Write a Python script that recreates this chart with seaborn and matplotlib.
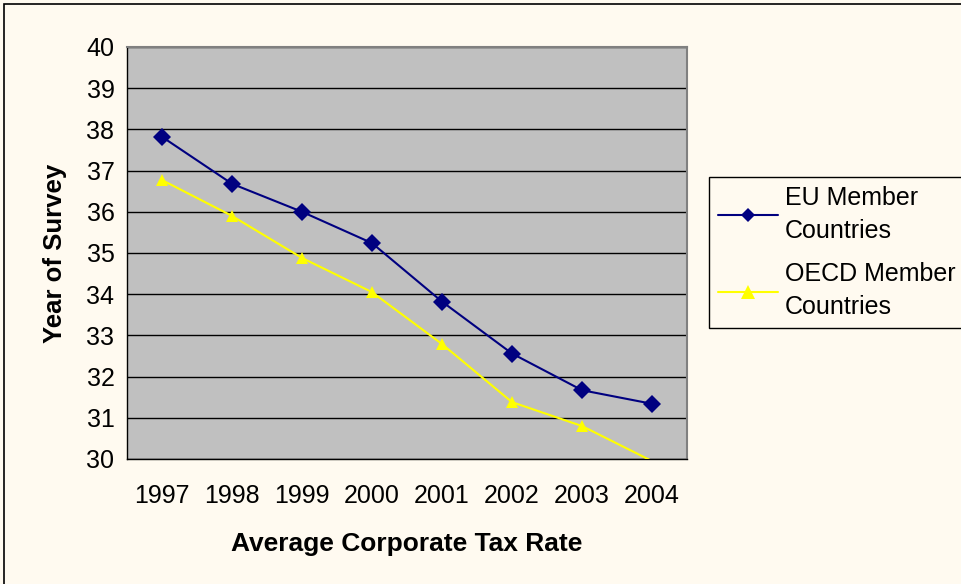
import matplotlib
matplotlib.use("Agg")
import matplotlib.pyplot as plt
import seaborn as sns
import pandas as pd
from matplotlib.patches import Rectangle
from matplotlib.lines import Line2D

years = ["1997", "1998", "1999", "2000", "2001", "2002", "2003", "2004"]
eu_values = [37.82, 36.68, 36.0, 35.24, 33.82, 32.56, 31.67, 31.34]
oecd_values = [36.77, 35.9, 34.88, 34.05, 32.79, 31.38, 30.8, 29.95]
series_names = ["EU Member\nCountries", "OECD Member\nCountries"]
y_ticks = [30, 31, 32, 33, 34, 35, 36, 37, 38, 39, 40]

df = pd.DataFrame({
    "year": years * 2,
    "pos": list(range(len(years))) * 2,
    "value": eu_values + oecd_values,
    "series": [series_names[0]] * len(years) + [series_names[1]] * len(years),
})

sns.set_style("white")
plt.rcParams["font.family"] = ["Liberation Sans", "DejaVu Sans"]
plt.rcParams["text.color"] = "black"
plt.rcParams["axes.labelcolor"] = "black"
plt.rcParams["xtick.color"] = "black"
plt.rcParams["ytick.color"] = "black"

bg = "#FFFAF0"
fig = plt.figure(figsize=(9.62, 5.84), dpi=100, facecolor=bg)
ax = fig.add_axes([127/962, 1 - 459/584, (687-127)/962, (459-47)/584])
ax.set_facecolor("#C0C0C0")

palette = {series_names[0]: "#000080", series_names[1]: "#FFFF00"}
markers = {series_names[0]: "D", series_names[1]: "^"}
sns.lineplot(data=df, x="pos", y="value", hue="series", style="series",
             palette=palette, markers=markers, dashes=False, markersize=9,
             linewidth=1.5, markeredgewidth=0, ax=ax, legend=False, zorder=3)
# hide the clipped 2004 OECD marker like the original
ax.lines[1].set_markevery(list(range(len(years) - 1)))

fs = 18
ax.set_xlim(-0.5, len(years) - 0.5)
ax.set_ylim(30, 40)
ax.set_yticks(y_ticks)
ax.set_yticklabels([str(t) for t in y_ticks], fontsize=fs)
ax.set_xticks([i - 0.5 for i in range(len(years) + 1)], minor=False)
ax.set_xticklabels([])
ax.set_xticks(list(range(len(years))), minor=True)
ax.set_xticklabels(years, minor=True, fontsize=fs)
ax.tick_params(axis="x", which="major", length=9, width=1, color="black", direction="out")
ax.tick_params(axis="x", which="minor", length=0, pad=18)
ax.tick_params(axis="y", which="major", length=6, width=1, color="black", direction="out", pad=3)

ax.grid(axis="y", color="black", linewidth=1, zorder=1)
ax.set_axisbelow(True)
for s in ["left", "bottom"]:
    ax.spines[s].set_color("black")
    ax.spines[s].set_linewidth(1)
for s in ["top", "right"]:
    ax.spines[s].set_color("#808080")
    ax.spines[s].set_linewidth(1.5)

ax.set_xlabel("Average Corporate Tax Rate", fontsize=19, fontweight="bold", labelpad=17)
ax.set_ylabel("Year of Survey", fontsize=18.5, fontweight="bold", labelpad=14)

handles = [
    Line2D([], [], color="#000080", marker="D", markersize=7, linewidth=1.5, markeredgewidth=0),
    Line2D([], [], color="#FFFF00", marker="^", markersize=10, linewidth=1.5, markeredgewidth=0),
]
leg = fig.legend(handles, series_names, loc="upper left",
                 bbox_to_anchor=(709/962, 1 - 177/584), fontsize=fs,
                 frameon=True, fancybox=False, edgecolor="black", facecolor=bg,
                 framealpha=1, handlelength=2.4, handletextpad=0.3,
                 labelspacing=0.75, borderpad=0.35, borderaxespad=0)
leg.get_frame().set_linewidth(1)
for t in leg.get_texts():
    t.set_linespacing(1.5)

fig.patches.append(Rectangle((4/962, -0.05), 1.1, 1 - 4/584 + 0.05,
                             transform=fig.transFigure, fill=False,
                             edgecolor="black", linewidth=1.2))

fig.savefig("out.png", dpi=100, facecolor=bg)
